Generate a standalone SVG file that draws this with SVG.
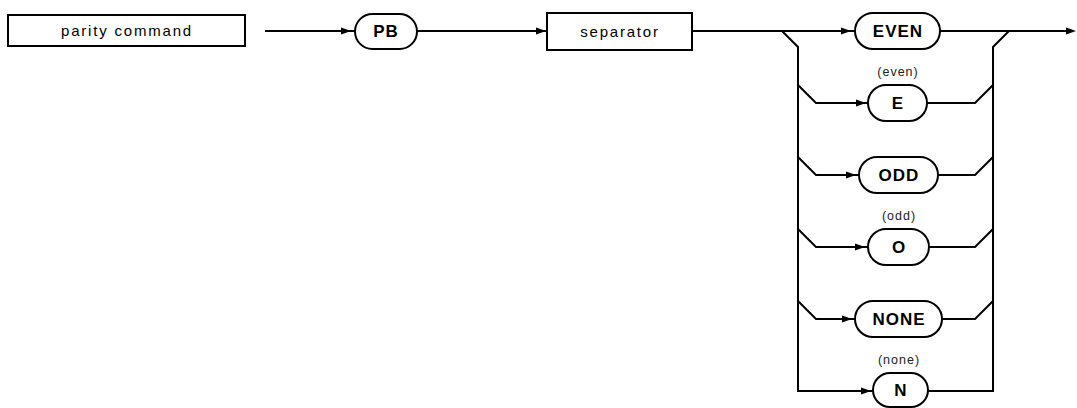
<svg xmlns="http://www.w3.org/2000/svg" xmlns:xlink="http://www.w3.org/1999/xlink" width="1077" height="408" viewBox="0 0 1077 408">
  <style>
    .box { fill: #fff; stroke: #000; stroke-width: 2; }
    .term { fill: #fff; stroke: #000; stroke-width: 2; }
    .wire { fill: none; stroke: #000; stroke-width: 2; stroke-linejoin: miter; }
    .boxtext { font-family: "Liberation Sans", Arial, sans-serif; font-size: 15px; letter-spacing: 1.8px; fill: #000; text-anchor: middle; }
    .kw { font-family: "Liberation Sans", Arial, sans-serif; font-size: 17px; font-weight: bold; letter-spacing: 1px; fill: #000; text-anchor: middle; }
    .note { font-family: "Liberation Sans", Arial, sans-serif; font-size: 12.5px; letter-spacing: 1px; fill: #222; text-anchor: middle; }
  </style>
  <defs>
    <path id="ah" d="M0,0 L-10,-3.5 L-10,3.5 Z" fill="#000"/>
  </defs>

  <!-- connectors -->
  <g id="connectors">
    <path class="wire" d="M265,31 H355"/>
    <use xlink:href="#ah" x="351" y="31"/>
    <path class="wire" d="M417,31 H547"/>
    <use xlink:href="#ah" x="546" y="31"/>
    <path class="wire" d="M692,31 H855"/>
    <use xlink:href="#ah" x="851" y="31"/>
    <path class="wire" d="M940,31 H1073"/>
    <use xlink:href="#ah" x="1076" y="31"/>

    <!-- left rail -->
    <path class="wire" d="M782,31 L798,47 V391 H873"/>
    <use xlink:href="#ah" x="871" y="391"/>
    <path class="wire" d="M798,85 L816,103 H868"/>
    <use xlink:href="#ah" x="866" y="103"/>
    <path class="wire" d="M798,157 L816,175 H859"/>
    <use xlink:href="#ah" x="856" y="175"/>
    <path class="wire" d="M798,229 L816,247 H868"/>
    <use xlink:href="#ah" x="865" y="247"/>
    <path class="wire" d="M798,301 L816,319 H855"/>
    <use xlink:href="#ah" x="852" y="319"/>

    <!-- right rail -->
    <path class="wire" d="M1009,31 L993,47 V391 H928"/>
    <path class="wire" d="M927,103 H975 L993,85"/>
    <path class="wire" d="M938,175 H975 L993,157"/>
    <path class="wire" d="M929,247 H975 L993,229"/>
    <path class="wire" d="M942,319 H975 L993,301"/>
  </g>

  <g id="parity-command">
    <rect class="box" x="8" y="15" width="237" height="31"/>
    <text class="boxtext" x="127" y="36">parity command</text>
  </g>

  <g id="pb">
    <rect class="term" x="355" y="14" width="62" height="35" rx="17.5"/>
    <text class="kw" x="386" y="37">PB</text>
  </g>

  <g id="separator">
    <rect class="box" x="547" y="13" width="145" height="37"/>
    <text class="boxtext" x="620" y="37">separator</text>
  </g>

  <g id="even">
    <rect class="term" x="855" y="13" width="85" height="36" rx="18"/>
    <text class="kw" x="898" y="37">EVEN</text>
  </g>

  <g id="e">
    <text class="note" x="898" y="76">(even)</text>
    <rect class="term" x="868" y="85" width="59" height="36" rx="18"/>
    <text class="kw" x="898" y="109">E</text>
  </g>

  <g id="odd">
    <rect class="term" x="859" y="157" width="79" height="36" rx="18"/>
    <text class="kw" x="899" y="181">ODD</text>
  </g>

  <g id="o">
    <text class="note" x="899" y="220">(odd)</text>
    <rect class="term" x="868" y="229" width="61" height="36" rx="18"/>
    <text class="kw" x="899" y="253">O</text>
  </g>

  <g id="none">
    <rect class="term" x="855" y="301" width="87" height="36" rx="18"/>
    <text class="kw" x="899" y="325">NONE</text>
  </g>

  <g id="n">
    <text class="note" x="899" y="364">(none)</text>
    <rect class="term" x="873" y="373" width="55" height="34" rx="17"/>
    <text class="kw" x="901" y="396">N</text>
  </g>
</svg>
